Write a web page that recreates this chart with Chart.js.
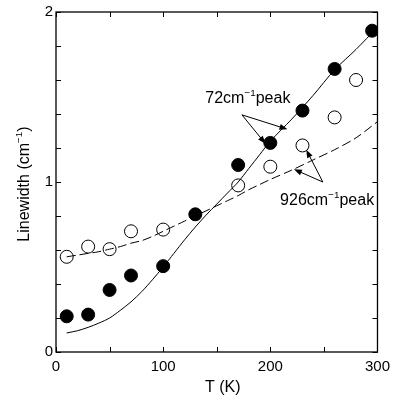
<!DOCTYPE html>
<html>
<head>
<meta charset="utf-8">
<script src="https://cdn.jsdelivr.net/npm/chart.js@4.4.1/dist/chart.umd.min.js"></script>
<style>
    html, body { margin: 0; padding: 0; background: #fff; }
    #wrap { width: 396px; height: 398px; }
</style>
</head>
<body>
<div id="wrap"><canvas id="chart" width="396" height="398"></canvas></div>
<script>
// measured points
const tempFilled = [10, 30, 50, 70, 100, 130, 170, 200, 230, 260, 295];
const width72 = [0.21, 0.22, 0.365, 0.45, 0.505, 0.81, 1.10, 1.23, 1.42, 1.665, 1.89];
const tempOpen = [10, 30, 50, 70, 100, 170, 200, 230, 260, 280];
const width926 = [0.56, 0.62, 0.605, 0.71, 0.72, 0.98, 1.09, 1.215, 1.38, 1.60];

// fitted curves
const tempFit = [10, 20, 30, 40, 50, 60, 70, 80, 90, 100, 110, 120, 130, 140, 150, 160, 170, 180, 190, 200, 220, 240, 260, 280, 300];
const fit72 = [0.112, 0.125, 0.145, 0.17, 0.20, 0.245, 0.295, 0.355, 0.425, 0.50, 0.58, 0.66, 0.735, 0.805, 0.87, 0.935, 1.00, 1.08, 1.16, 1.24, 1.37, 1.51, 1.66, 1.78, 1.91];
const fit926 = [0.56, 0.57, 0.58, 0.59, 0.605, 0.62, 0.64, 0.655, 0.68, 0.71, 0.74, 0.77, 0.80, 0.83, 0.86, 0.89, 0.92, 0.955, 0.985, 1.015, 1.07, 1.13, 1.19, 1.26, 1.355];

const xTicks = [0, 100, 200, 300];
const yTicks = [0, 1, 2];

const toXY = (xs, ys) => xs.map((x, i) => ({ x: x, y: ys[i] }));

const FONT = '"Liberation Sans", Arial, sans-serif';

// draws text with a superscript part, centred on x
function drawRich(ctx, parts, x, y, size) {
    let total = 0;
    parts.forEach(p => {
        ctx.font = (p.sup ? size * 0.62 : size) + 'px ' + FONT;
        p.w = ctx.measureText(p.t).width;
        total += p.w;
    });
    let cx = x - total / 2;
    parts.forEach(p => {
        ctx.font = (p.sup ? size * 0.62 : size) + 'px ' + FONT;
        ctx.fillText(p.t, cx, p.sup ? y - size * 0.45 : y);
        cx += p.w;
    });
}

function arrow(ctx, x1, y1, x2, y2) {
    const a = Math.atan2(y2 - y1, x2 - x1);
    const len = 8, half = 3;
    ctx.beginPath();
    ctx.moveTo(x1, y1);
    ctx.lineTo(x2 - Math.cos(a) * len * 0.7, y2 - Math.sin(a) * len * 0.7);
    ctx.stroke();
    ctx.beginPath();
    ctx.moveTo(x2, y2);
    ctx.lineTo(x2 - Math.cos(a) * len + Math.sin(a) * half, y2 - Math.sin(a) * len - Math.cos(a) * half);
    ctx.lineTo(x2 - Math.cos(a) * len - Math.sin(a) * half, y2 - Math.sin(a) * len + Math.cos(a) * half);
    ctx.closePath();
    ctx.fill();
}

// labels, arrows (in data coordinates)
const notes = [
    { text: [{ t: '72cm' }, { t: '\u22121', sup: true }, { t: 'peak' }], at: [179, 1.465],
      from: [173.5, 1.395], to: [[195.5, 1.225], [216, 1.31]] },
    { text: [{ t: '926cm' }, { t: '\u22121', sup: true }, { t: 'peak' }], at: [253, 0.865],
      from: [249, 1.0], to: [[233.5, 1.19], [222, 1.075]] }
];

const framePlugin = {
    id: 'frame',
    afterDraw(chart) {
        const { ctx, chartArea: a, scales } = chart;
        const sx = scales.x, sy = scales.y;
        ctx.save();
        ctx.strokeStyle = '#000';
        ctx.fillStyle = '#000';
        ctx.lineWidth = 1.3;
        ctx.strokeRect(a.left, a.top, a.right - a.left, a.bottom - a.top);

        // inward ticks on all four sides
        ctx.lineWidth = 1;
        const tl = 5;
        ctx.beginPath();
        for (let v = 0; v <= 300; v += 50) {
            const px = Math.round(sx.getPixelForValue(v)) + 0.5;
            ctx.moveTo(px, a.bottom); ctx.lineTo(px, a.bottom - tl);
            ctx.moveTo(px, a.top); ctx.lineTo(px, a.top + tl);
        }
        for (let i = 0; i <= 10; i++) {
            const py = Math.round(sy.getPixelForValue(i * 0.2)) + 0.5;
            ctx.moveTo(a.left, py); ctx.lineTo(a.left + tl, py);
            ctx.moveTo(a.right, py); ctx.lineTo(a.right - tl, py);
        }
        ctx.stroke();

        // annotations
        ctx.textBaseline = 'alphabetic';
        ctx.textAlign = 'left';
        notes.forEach(l => {
            drawRich(ctx, l.text, sx.getPixelForValue(l.at[0]), sy.getPixelForValue(l.at[1]), 16);
            const fx = sx.getPixelForValue(l.from[0]), fy = sy.getPixelForValue(l.from[1]);
            l.to.forEach(t => arrow(ctx, fx, fy, sx.getPixelForValue(t[0]), sy.getPixelForValue(t[1])));
        });

        // axis titles
        drawRich(ctx, [{ t: 'T (K)' }], (a.left + a.right) / 2 + 6, 392, 16);
        ctx.translate(29, (a.top + a.bottom) / 2 + 2);
        ctx.rotate(-Math.PI / 2);
        drawRich(ctx, [{ t: 'Linewidth (cm' }, { t: '\u22121', sup: true }, { t: ')' }], 0, 0, 16);
        ctx.restore();
    }
};

new Chart(document.getElementById('chart'), {
    type: 'scatter',
    data: {
        datasets: [{
            label: '72 fit',
            type: 'line',
            data: toXY(tempFit, fit72),
            borderColor: '#000',
            borderWidth: 1,
            pointRadius: 0,
            tension: 0.3,
            fill: false
        }, {
            label: '926 fit',
            type: 'line',
            data: toXY(tempFit, fit926),
            borderColor: '#000',
            borderWidth: 1,
            borderDash: [9, 4],
            pointRadius: 0,
            tension: 0.3,
            fill: false
        }, {
            label: '72cm-1 peak',
            data: toXY(tempFilled, width72),
            pointRadius: 6.5,
            backgroundColor: '#000',
            borderColor: '#000',
            borderWidth: 1
        }, {
            label: '926cm-1 peak',
            data: toXY(tempOpen, width926),
            pointRadius: 6.5,
            backgroundColor: 'rgba(0,0,0,0)',
            borderColor: '#000',
            borderWidth: 1
        }]
    },
    plugins: [framePlugin],
    options: {
        responsive: false,
        animation: false,
        layout: { padding: { top: 12, right: 16, left: 0, bottom: 0 } },
        plugins: {
            legend: { display: false },
            tooltip: { enabled: false }
        },
        scales: {
            x: {
                type: 'linear',
                min: 0, max: 300,
                afterBuildTicks: s => { s.ticks = xTicks.map(v => ({ value: v })); },
                afterFit: s => { s.height = 46; },
                grid: { display: false, drawTicks: false },
                border: { display: false },
                ticks: { color: '#000', padding: 6, maxRotation: 0, font: { family: FONT, size: 15 } }
            },
            y: {
                type: 'linear',
                min: 0, max: 2,
                afterBuildTicks: s => { s.ticks = yTicks.map(v => ({ value: v })); },
                afterFit: s => { s.width = 56; },
                grid: { display: false, drawTicks: false },
                border: { display: false },
                ticks: { color: '#000', padding: 3, font: { family: FONT, size: 15 } }
            }
        }
    }
});
</script>
</body>
</html>
